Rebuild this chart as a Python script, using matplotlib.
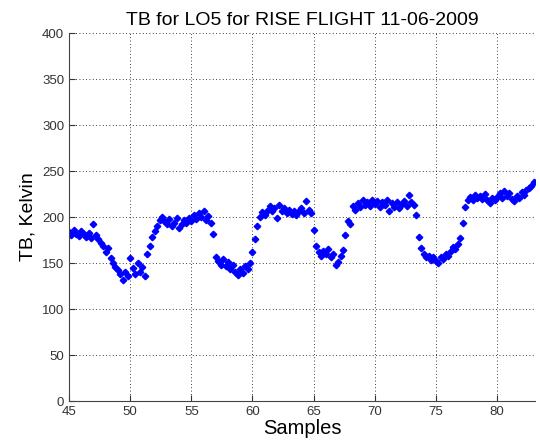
import numpy as np
import matplotlib
matplotlib.use("Agg")
import matplotlib.pyplot as plt

plt.rcParams['font.family'] = ['Liberation Sans', 'DejaVu Sans']

# samples are spaced 0.2 apart, from 45 to 83
x_start, x_step = 45.0, 0.2

# TB readings in Kelvin, one row per sample unit
tb = [
    184, 180, 186, 182, 179,   # 45
    185, 181, 178, 183, 177,   # 46
    192, 180, 176, 172, 168,   # 47
    162, 166, 155, 150, 146,   # 48
    142, 138, 131, 140, 136,   # 49
    155, 145, 138, 150, 140,   # 50
    146, 136, 160, 168, 178,   # 51
    185, 190, 197, 200, 196,   # 52
    192, 198, 190, 194, 199,   # 53
    188, 192, 197, 194, 199,   # 54
    196, 202, 198, 204, 200,   # 55
    206, 197, 201, 194, 182,   # 56
    156, 152, 148, 154, 147,   # 57
    151, 144, 148, 140, 137,   # 58
    143, 139, 147, 143, 150,   # 59
    162, 176, 190, 200, 205,   # 60
    202, 207, 212, 206, 210,   # 61
    199, 213, 207, 210, 204,   # 62
    208, 203, 207, 202, 206,   # 63
    210, 204, 217, 208, 204,   # 64
    186, 169, 162, 158, 163,   # 65
    160, 165, 157, 160, 148,   # 66
    151, 158, 164, 180, 196,   # 67
    192, 212, 208, 215, 211,   # 68
    218, 213, 216, 212, 219,   # 69
    214, 217, 211, 216, 213,   # 70
    218, 206, 215, 211, 216,   # 71
    210, 214, 217, 212, 224,   # 72
    216, 213, 202, 178, 166,   # 73
    160, 156, 158, 153, 156,   # 74
    152, 150, 157, 154, 160,   # 75
    158, 163, 167, 165, 171,   # 76
    177, 193, 211, 219, 222,   # 77
    218, 224, 221, 223, 220,   # 78
    225, 219, 215, 221, 218,   # 79
    222, 226, 221, 228, 223,   # 80
    226, 220, 217, 223, 221,   # 81
    227, 224, 229, 231, 234,   # 82
    238,                       # 83
]

samples = x_start + x_step * np.arange(len(tb))

fig = plt.figure(figsize=(5.4, 4.48), dpi=100)
ax = fig.add_axes([0.1278, 0.1049, 0.8629, 0.8214])

ax.plot(samples, tb, linestyle='none', marker='D', markersize=3.3,
        color='#0000ff', markeredgecolor='#0000ff')

ax.set_xlim(45, 83.1)
ax.set_ylim(0, 400)
ax.set_xticks(np.arange(45, 81, 5))
ax.set_yticks(np.arange(0, 401, 50))

ax.grid(True, linestyle=(0, (1, 3)), color='black', linewidth=0.6)
ax.tick_params(direction='in', length=4, labelsize=9.5, colors='#333333',
               width=0.8)
for side in ['top', 'right']:
    ax.spines[side].set_visible(False)
for side in ['left', 'bottom']:
    ax.spines[side].set_color('#444444')

ax.set_title('TB for LO5 for RISE FLIGHT 11-06-2009', fontsize=14)
ax.set_xlabel('Samples', fontsize=14.5, labelpad=1)
ax.set_ylabel('TB, Kelvin', fontsize=14, labelpad=4)

fig.savefig('out.png', dpi=100)
